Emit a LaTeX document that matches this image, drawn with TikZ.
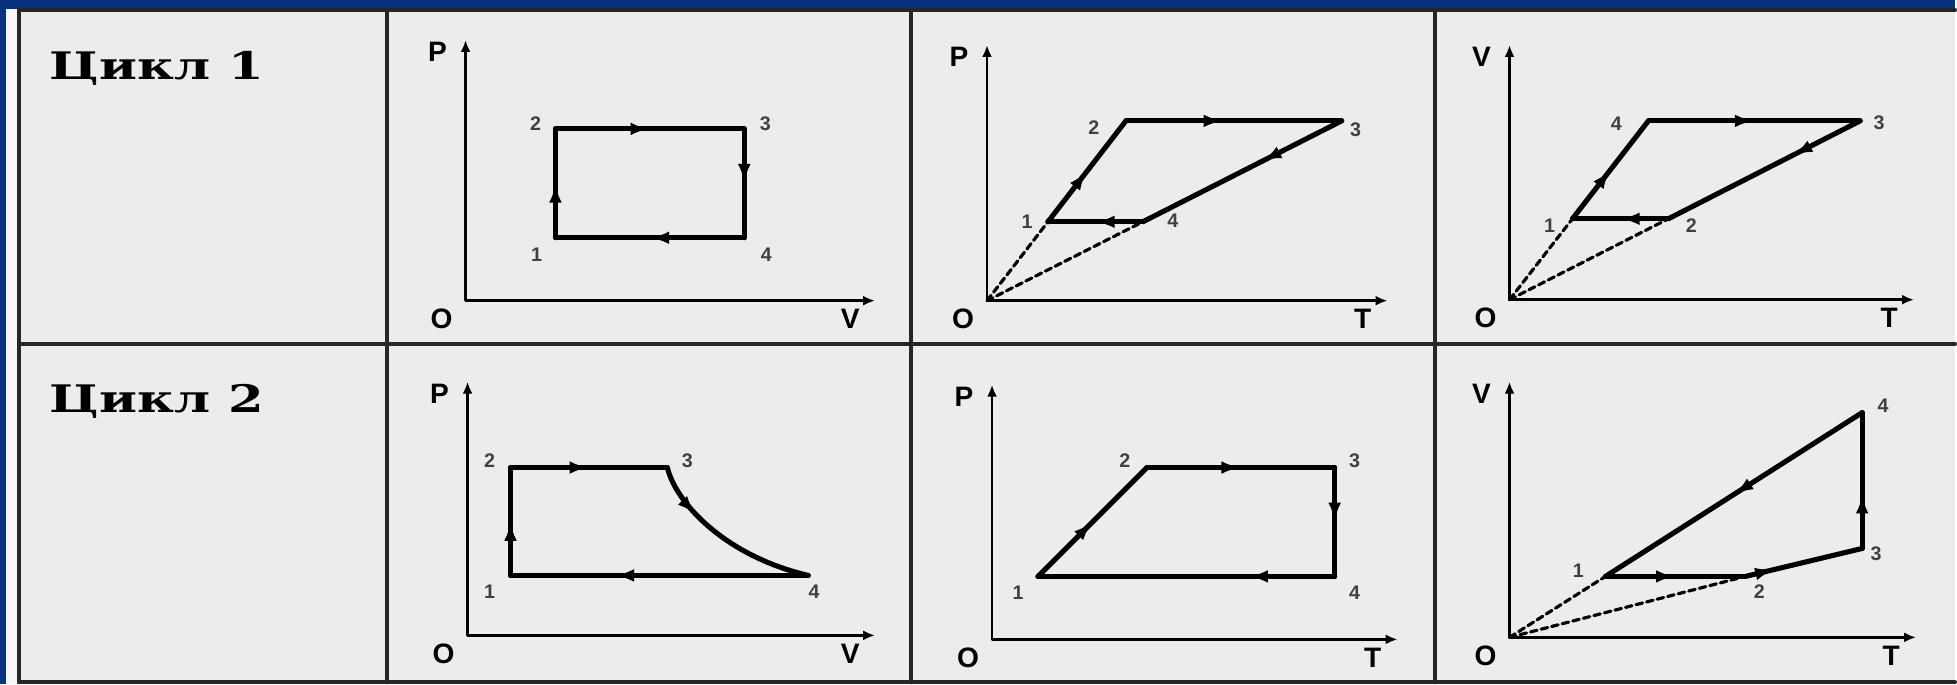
\documentclass[tikz,border=0pt]{standalone}
\usepackage{fontspec}
\usetikzlibrary{arrows.meta,decorations.markings}
\newfontfamily\headfont{DejaVu Serif}
\newfontfamily\axisfont{Liberation Sans}
\definecolor{navy}{RGB}{8,50,125}
\definecolor{cellgray}{RGB}{236,236,236}

\begin{document}
\begin{tikzpicture}[x=0.01cm,y=-0.01cm,line cap=round,line join=round,
  grid/.style={line width=1.1pt,black!85},
  axis/.style={line width=0.8pt,{Latex[length=3.4pt,width=2.8pt]}-{Latex[length=3.4pt,width=2.8pt]}},
  cyc/.style={line width=1.45pt},
  ray/.style={line width=0.9pt,dash pattern=on 1.9pt off 1.2pt},
  flow/.style={cyc,postaction={decorate},decoration={markings,
    mark=at position #1 with {\arrow{Latex[length=5.5pt,width=3.6pt]}}}},
  flow/.default=0.5,
  ax/.style={font=\axisfont\bfseries\fontsize{8}{9}\selectfont,inner sep=0pt},
  num/.style={font=\axisfont\bfseries\fontsize{5.6}{6}\selectfont,text=black!75,inner sep=0pt},
  head/.style={font=\headfont\bfseries\fontsize{10.8}{12}\selectfont,anchor=base west,inner sep=0pt}]
  % frame and table
  \fill[navy] (0,0) rectangle (1957,685);
  \fill[cellgray] (6,9) rectangle (1957,685);
  \fill[white!60!cellgray] (6,9) rectangle (17,685);
  \foreach \x in {19,387,912,1436}
    \draw[grid] (\x,10) -- (\x,683);
  \foreach \y in {10,344,683}
    \draw[grid] (19,\y) -- (1957,\y);
  \node[head] (cyc1) at (49,80) {\scalebox{1.35}[1]{Цикл 1}};
  \node[head] (cyc2) at (49,413) {\scalebox{1.35}[1]{Цикл 2}};
  % axes
  \foreach \n/\ox/\oy/\top/\rx/\yl/\xl in
   {a/466/301/40/876/P/V,b/988/301/45/1389/P/T,c/1511/300/45/1916/V/T,
    d/468/636/382/876/P/V,e/993/640/385/1399/P/T,f/1511/638/382/1918/V/T}{
    \coordinate (o\n) at (\ox,\oy);
    \coordinate (ytop\n) at (\ox,\top);
    \coordinate (xend\n) at (\rx,\oy);
    \draw[axis] (ytop\n) -- (o\n) -- (xend\n);
    \node[ax] (yl\n) at (\ox-28,\top+12) {\yl};
    \node[ax] (ol\n) at (\ox-24,\oy+18) {O};
    \node[ax] (xl\n) at (\rx-25,\oy+18) {\xl};
  }
  % state points
  \foreach \n/\x/\y in
   {a1/556/238,a2/556/129,a3/745/129,a4/745/238,
    b1/1049/222,b2/1127/121,b3/1343/121,b4/1144/222,
    c1/1574/219,c2/1670/219,c3/1862/121,c4/1650/121,
    d1/511/576,d2/511/468,d3/668/468,d4/809/576,
    e1/1039/577,e2/1148/468,e3/1336/468,e4/1336/577,
    f1/1607/577,f2/1747/577,f3/1864/549,f4/1864/413}
    \coordinate (\n) at (\x,\y);
  \foreach \n/\x/\y/\t in
   {a1/537/255/1,a2/536/124/2,a3/766/124/3,a4/767/255/4,
    b1/1028/222/1,b2/1095/128/2,b3/1357/130/3,b4/1174/221/4,
    c1/1551/226/1,c2/1693/226/2,c3/1881/123/3,c4/1618/124/4,
    d1/490/592/1,d2/490/461/2,d3/688/461/3,d4/815/592/4,
    e1/1019/593/1,e2/1126/461/2,e3/1356/461/3,e4/1356/593/4,
    f1/1580/571/1,f2/1761/592/2,f3/1878/554/3,f4/1885/406/4}
    \node[num] (l\n) at (\x,\y) {\t};
  % rays through the origin
  \foreach \o/\p in {ob/b1,ob/b4,oc/c1,oc/c2,of/f1,of/f2}
    \draw[ray] (\o) -- (\p);
  % cycles
  \foreach \p/\q/\s in
   {a1/a2/.5,a2/a3/.5,a3/a4/.5,a4/a1/.5,
    b1/b2/.5,b2/b3/.45,b3/b4/.4,b4/b1/.5,
    c1/c4/.5,c4/c3/.5,c3/c2/.35,c2/c1/.5,
    d1/d2/.5,d2/d3/.5,d4/d1/.65,
    e1/e2/.5,e2/e3/.5,e3/e4/.5,e4/e1/.29,
    f1/f2/.5,f2/f3/.25,f3/f4/.4,f4/f1/.5}
    \draw[flow=\s] (\p) -- (\q);
  \draw[flow=.3] (d3) .. controls (676,502) and (724,556) .. (d4);
\end{tikzpicture}
\end{document}
